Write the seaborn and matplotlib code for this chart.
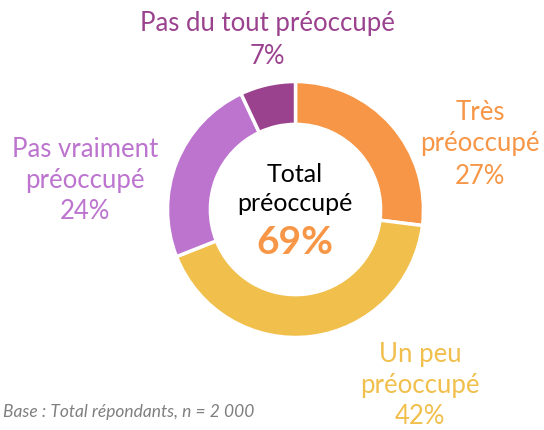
import matplotlib
matplotlib.use("Agg")
import matplotlib.pyplot as plt
import seaborn as sns

# Données
categories = ["Très préoccupé", "Un peu préoccupé", "Pas vraiment préoccupé", "Pas du tout préoccupé"]
valeurs = [27, 42, 24, 7]
couleurs = ["#F79646", "#F1BF4B", "#BC74CF", "#9B428F"]
total_preoccupe = 69
note = "Base : Total répondants, n = 2 000"

sns.set_theme(style="white")
plt.rcParams['font.family'] = ['Lato', 'DejaVu Sans']

W, H = 544, 431
fig = plt.figure(figsize=(W / 100, H / 100), dpi=100)

# anneau centré à (295, 210) px, rayon ~128 px
cx, cy, r = 295.5, 210.5, 128
ax = fig.add_axes([(cx - r) / W, 1 - (cy + r) / H, 2 * r / W, 2 * r / H])
ax.pie(valeurs, colors=couleurs, startangle=90, counterclock=False, radius=1,
       wedgeprops=dict(width=0.335, edgecolor="white", linewidth=2.5))
ax.set_xlim(-1, 1)
ax.set_ylim(-1, 1)
ax.axis("off")


def txt(x, y, s, **kw):
    fig.text(x / W, 1 - y / H, s, ha="center", va="center", **kw)


fs = 18.5
txt(267, 40, "Pas du tout préoccupé\n7%", color=couleurs[3], fontsize=fs, linespacing=1.35)
txt(480, 144, "Très\npréoccupé\n27%", color=couleurs[0], fontsize=fs, linespacing=1.35)
txt(85, 181, "Pas vraiment\npréoccupé\n24%", color=couleurs[2], fontsize=fs, linespacing=1.3)
txt(420, 386, "Un peu\npréoccupé\n42%", color=couleurs[1], fontsize=fs, linespacing=1.3)

txt(295, 189, "Total\npréoccupé", color="black", fontsize=18, linespacing=1.3)
txt(295, 243, f"{total_preoccupe}%", color=couleurs[0], fontsize=28, fontweight="bold")

fig.text(3 / W, 1 - 412 / H, note, ha="left", va="center", color="#7F7F7F",
         fontsize=12.5, style="italic")

fig.savefig("out.png", dpi=100, facecolor="white")
